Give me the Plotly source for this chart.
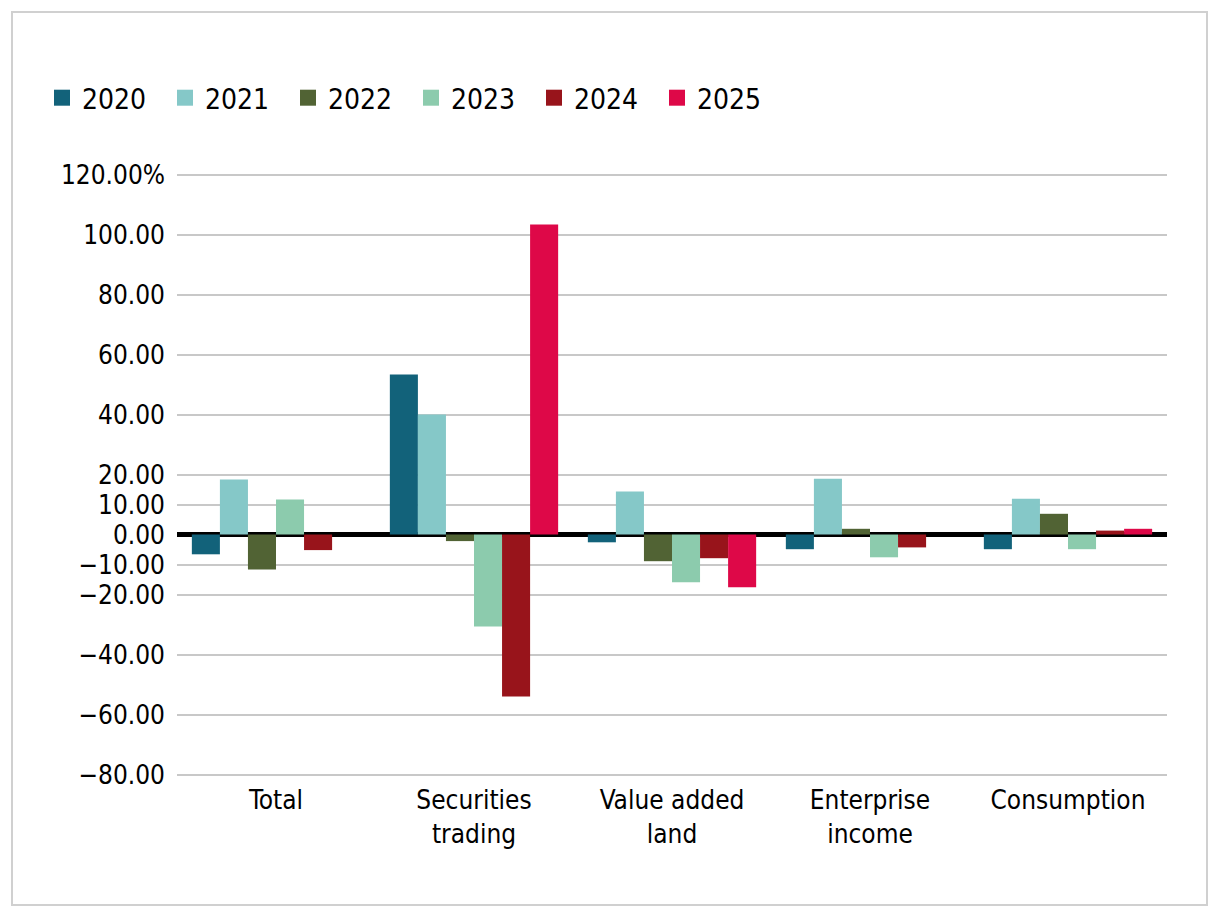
import plotly.graph_objects as go

categories = ["Total", "Securities<br>trading", "Value added<br>land", "Enterprise<br>income", "Consumption"]
years = ["2020", "2021", "2022", "2023", "2024", "2025"]
values = {
    "2020": [-6.6, 53.3, -2.6, -4.9, -4.9],
    "2021": [18.3, 40.0, 14.3, 18.6, 11.9],
    "2022": [-11.7, -2.2, -8.9, 1.9, 6.9],
    "2023": [11.7, -30.7, -15.9, -7.6, -4.9],
    "2024": [-5.2, -54.0, -7.9, -4.3, 1.3],
    "2025": [0.0, 103.3, -17.6, 0.0, 1.9],
}
colors = {
    "2020": "#12627a",
    "2021": "#85c8c8",
    "2022": "#516334",
    "2023": "#8ccbad",
    "2024": "#98141b",
    "2025": "#de0848",
}
tick_vals = [120, 100, 80, 60, 40, 20, 10, 0, -10, -20, -40, -60, -80]
tick_text = ["120.00%", "100.00", "80.00", "60.00", "40.00", "20.00", "10.00", "0.00",
             "\u221210.00", "\u221220.00", "\u221240.00", "\u221260.00", "\u221280.00"]

FONT = "DejaVu Sans Condensed, Liberation Sans Narrow, sans-serif"

fig = go.Figure()
for y in years:
    fig.add_trace(go.Bar(x=categories, y=values[y], name=y, showlegend=False,
                         marker=dict(color=colors[y], line=dict(width=0))))
# legend-only entries with larger square swatches
for y in years:
    fig.add_trace(go.Scatter(x=[None], y=[None], name=y, mode="markers",
                             marker=dict(symbol="square", size=22, color=colors[y],
                                         line=dict(width=0)),
                             hoverinfo="skip"))

OFF = 8  # page body margin
W, H = 1204, 900
L = 177 - OFF
R = W - (1167 - OFF)
T = int(173.5 - OFF)
B = H - int(776.5 - OFF)
pw, ph = W - L - R, H - T - B

def px_x(p):
    return (p - OFF - L) / pw

def px_y(p):
    return (H - B - (p - OFF)) / ph

fig.update_layout(
    width=W, height=H,
    margin=dict(l=L, r=R, t=T, b=B, autoexpand=False),
    paper_bgcolor="white", plot_bgcolor="white",
    font=dict(family=FONT, size=26, color="#000000"),
    barmode="group", bargap=0.15, bargroupgap=0,
    showlegend=True,
    legend=dict(orientation="h", x=px_x(42), y=px_y(98), xanchor="left", yanchor="middle",
                font=dict(size=28), entrywidth=78, itemclick=False, traceorder="normal"),
    xaxis=dict(showgrid=False, showline=False, ticks="", tickfont=dict(size=26),
               ticklabelstandoff=6, fixedrange=True),
    yaxis=dict(range=[-80.5, 120.5], tickvals=tick_vals, ticktext=tick_text,
               showgrid=True, gridcolor="#c8c8c8", gridwidth=2,
               zeroline=True, zerolinecolor="#000000", zerolinewidth=5,
               showline=False, ticks="", ticklabelstandoff=11, tickfont=dict(size=26),
               fixedrange=True),
    shapes=[dict(type="rect", xref="paper", yref="paper",
                 x0=px_x(12), x1=px_x(1207), y0=px_y(905), y1=px_y(12),
                 line=dict(color="#d0d0d0", width=2), fillcolor="rgba(0,0,0,0)", layer="below")],
)

fig.write_html("out.html")
